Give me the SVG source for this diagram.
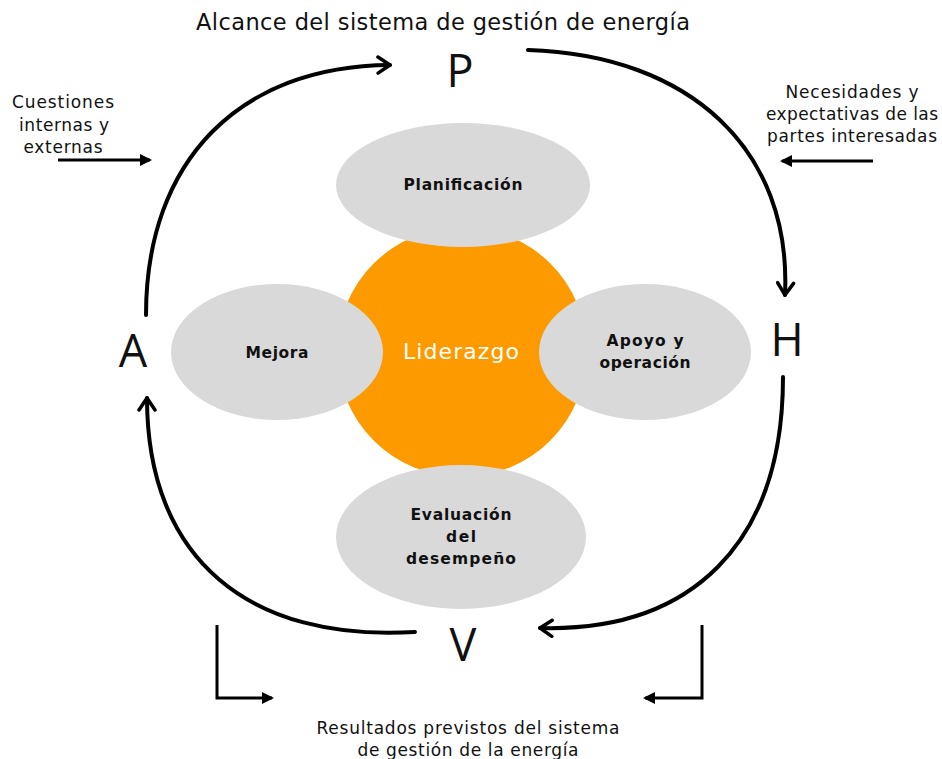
<svg xmlns="http://www.w3.org/2000/svg" width="942" height="759" viewBox="0 0 942 759">
<defs>
<style>
text{font-family:"DejaVu Sans","Open Sans",sans-serif;fill:#111;text-anchor:middle}
.t{font-size:22.5px}
.s{font-size:17px}
.n{font-size:15.5px;font-weight:bold}
.L{font-size:45px;font-family:"Open Sans","DejaVu Sans",sans-serif}
.el{fill:#D9D9D9}
.c{fill:none;stroke:#000;stroke-width:4;stroke-linecap:round}
.k{fill:none;stroke:#000;stroke-width:3}
</style>
<marker id="ch" viewBox="0 0 20 20" refX="16" refY="10" markerWidth="20" markerHeight="20" markerUnits="userSpaceOnUse" orient="auto">
<path d="M4,2 L16,10 L4,18" fill="none" stroke="#000" stroke-width="3.5" stroke-linecap="round" stroke-linejoin="round"/>
</marker>
<marker id="tri" viewBox="0 0 12 12" refX="10" refY="6" markerWidth="12" markerHeight="12" markerUnits="userSpaceOnUse" orient="auto">
<path d="M0,0 L12,6 L0,12 Z" fill="#000"/>
</marker>
</defs>
<text class="t" x="443" y="30" textLength="494" lengthAdjust="spacing">Alcance del sistema de gestión de energía</text>
<g id="center">
<circle cx="462" cy="352" r="125" fill="#FC9A00"/>
<text x="461" y="359" style="font-size:22px;fill:#fff" textLength="116" lengthAdjust="spacing">Liderazgo</text>
</g>
<g id="planificacion"><ellipse class="el" cx="463" cy="185" rx="127" ry="62"/><text class="n" x="463" y="190" textLength="119" lengthAdjust="spacing">Planificación</text></g>
<g id="mejora"><ellipse class="el" cx="277" cy="352" rx="106" ry="68"/><text class="n" x="277" y="358" textLength="63" lengthAdjust="spacing">Mejora</text></g>
<g id="apoyo"><ellipse class="el" cx="645" cy="352" rx="106" ry="68"/><text class="n" x="645" y="346" textLength="77" lengthAdjust="spacing">Apoyo y</text><text class="n" x="645" y="368" textLength="91" lengthAdjust="spacing">operación</text></g>
<g id="evaluacion"><ellipse class="el" cx="461" cy="537" rx="125" ry="72"/><text class="n" x="461" y="520" textLength="101" lengthAdjust="spacing">Evaluación</text><text class="n" x="461" y="542" textLength="30" lengthAdjust="spacing">del</text><text class="n" x="461" y="564" textLength="110" lengthAdjust="spacing">desempeño</text></g>
<g id="P"><text class="L" x="460" y="87">P</text></g>
<g id="H"><text class="L" x="787" y="356">H</text></g>
<g id="V"><text class="L" x="463" y="661">V</text></g>
<g id="A"><text class="L" x="133" y="367">A</text></g>
<g id="inputs">
<text class="s" x="63" y="108" textLength="102" lengthAdjust="spacing">Cuestiones</text>
<text class="s" x="64" y="131" textLength="90" lengthAdjust="spacing">internas y</text>
<text class="s" x="63" y="153" textLength="79" lengthAdjust="spacing">externas</text>
<text class="s" x="852" y="98" textLength="133" lengthAdjust="spacing">Necesidades y</text>
<text class="s" x="852" y="120" textLength="172" lengthAdjust="spacing">expectativas de las</text>
<text class="s" x="852" y="142" textLength="170" lengthAdjust="spacing">partes interesadas</text>
<text class="s" x="468" y="734" textLength="303" lengthAdjust="spacing">Resultados previstos del sistema</text>
<text class="s" x="468" y="756" textLength="221" lengthAdjust="spacing">de gestión de la energía</text>
</g>
<g id="connectors">
<path class="c" d="M146,315 C146,160 240,66 390,65" marker-end="url(#ch)"/>
<path class="c" d="M528,50 C690,55 792,150 785,295" marker-end="url(#ch)"/>
<path class="c" d="M783,377 C783,545 690,632 540,628" marker-end="url(#ch)"/>
<path class="c" d="M415,632 C250,642 147,560 147,398" marker-end="url(#ch)"/>
<path class="k" d="M58,160 L150,160" marker-end="url(#tri)"/>
<path class="k" d="M873,161 L782,161" marker-end="url(#tri)"/>
<path class="k" d="M217,625 L217,698 L272,698" marker-end="url(#tri)"/>
<path class="k" d="M702,625 L702,698 L645,698" marker-end="url(#tri)"/>
</g>
</svg>
